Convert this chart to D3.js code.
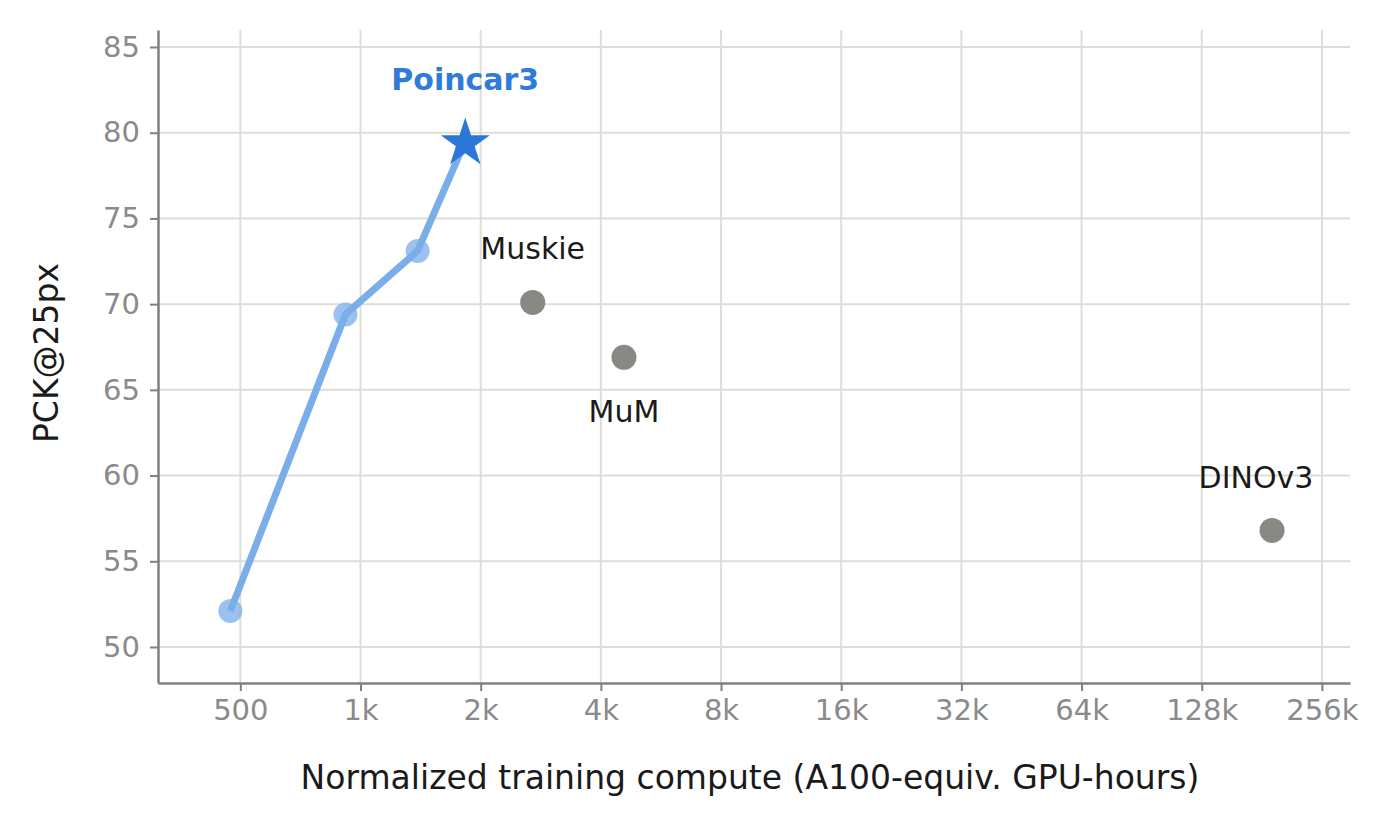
<!DOCTYPE html>
<html><head><meta charset="utf-8">
<script src="https://cdn.jsdelivr.net/npm/d3@7"></script>
<style>body{margin:0;background:#fff;font-family:"DejaVu Sans",sans-serif;}</style>
</head><body>
<script>
const width = 1400, height = 831;

// Poincar3 scaling curve
const poincarCompute = [472, 917, 1390];
const poincarScore = [52.1, 69.4, 73.1];
const starCompute = 1830, starScore = 79.5;

// baselines
const baseNames = ["Muskie", "MuM", "DINOv3"];
const baseCompute = [2700, 4570, 192000];
const baseScore = [70.1, 66.9, 56.8];

const xTicks = [500, 1000, 2000, 4000, 8000, 16000, 32000, 64000, 128000, 256000];
const xTickLabels = ["500", "1k", "2k", "4k", "8k", "16k", "32k", "64k", "128k", "256k"];
const yTicks = [50, 55, 60, 65, 70, 75, 80, 85];

const m = {left: 158, right: 1350, top: 30, bottom: 683};

const x = d3.scaleLog().base(2).domain([311, 301000]).range([m.left, m.right]);
const y = d3.scaleLinear().domain([47.9, 85 + 17 / 17.14]).range([m.bottom, m.top]);

const svg = d3.select("body").append("svg").attr("width", width).attr("height", height);

// grid
svg.append("g").selectAll("line").data(xTicks).enter().append("line")
  .attr("x1", d => x(d)).attr("x2", d => x(d)).attr("y1", m.top).attr("y2", m.bottom)
  .attr("stroke", "#deddd8").attr("stroke-width", 2);
svg.append("g").selectAll("line").data(yTicks).enter().append("line")
  .attr("x1", m.left).attr("x2", m.right).attr("y1", d => y(d)).attr("y2", d => y(d))
  .attr("stroke", "#deddd8").attr("stroke-width", 2);

// axes
const xAxis = svg.append("g").attr("transform", `translate(0,${m.bottom})`)
  .call(d3.axisBottom(x).tickValues(xTicks).tickFormat((d, i) => xTickLabels[i])
    .tickSize(8).tickSizeOuter(0).tickPadding(8));
const yAxis = svg.append("g").attr("transform", `translate(${m.left},0)`)
  .call(d3.axisLeft(y).tickValues(yTicks).tickSize(8).tickSizeOuter(0).tickPadding(10));
[xAxis, yAxis].forEach(a => {
  a.select(".domain").attr("stroke", "#808080").attr("stroke-width", 2.5);
  a.selectAll(".tick line").attr("stroke", "#808080").attr("stroke-width", 2);
  a.selectAll(".tick text").attr("fill", "#8a8a8a").attr("font-size", 29)
    .attr("font-family", "DejaVu Sans");
});

// axis titles
svg.append("text").attr("x", 750).attr("y", 789)
  .attr("text-anchor", "middle").attr("font-size", 33).attr("fill", "#1a1a1a")
  .text("Normalized training compute (A100-equiv. GPU-hours)");
svg.append("text").attr("transform", `translate(58,353) rotate(-90)`)
  .attr("text-anchor", "middle").attr("font-size", 33).attr("fill", "#1a1a1a")
  .text("PCK@25px");

// Poincar3 line
const pts = poincarCompute.map((c, i) => [c, poincarScore[i]]).concat([[starCompute, starScore]]);
svg.append("path").datum(pts)
  .attr("d", d3.line().x(d => x(d[0])).y(d => y(d[1])))
  .attr("fill", "none").attr("stroke", "#7aaee8").attr("stroke-width", 7);
svg.append("g").selectAll("circle").data(poincarCompute).enter().append("circle")
  .attr("cx", d => x(d)).attr("cy", (d, i) => y(poincarScore[i])).attr("r", 12)
  .attr("fill", "#7aaee8").attr("fill-opacity", 0.75);

// star
svg.append("path")
  .attr("d", d3.symbol().type(d3.symbolStar).size(750)())
  .attr("transform", `translate(${x(starCompute)},${y(starScore) + 2})`)
  .attr("fill", "#2b77d8");
svg.append("text").attr("x", x(starCompute)).attr("y", 90)
  .attr("text-anchor", "middle").attr("font-size", 30).attr("font-weight", "bold")
  .attr("fill", "#2f7bd9").text("Poincar3");

// baselines
svg.append("g").selectAll("circle").data(baseCompute).enter().append("circle")
  .attr("cx", d => x(d)).attr("cy", (d, i) => y(baseScore[i])).attr("r", 12.5)
  .attr("fill", "#8a8882");
const labelDx = [0, 0, -16];
const labelDy = [-43, 65, -42];
svg.append("g").selectAll("text").data(baseNames).enter().append("text")
  .attr("x", (d, i) => x(baseCompute[i]) + labelDx[i])
  .attr("y", (d, i) => y(baseScore[i]) + labelDy[i])
  .attr("text-anchor", "middle").attr("font-size", 30).attr("fill", "#1a1a1a")
  .text(d => d);
</script>
</body></html>
